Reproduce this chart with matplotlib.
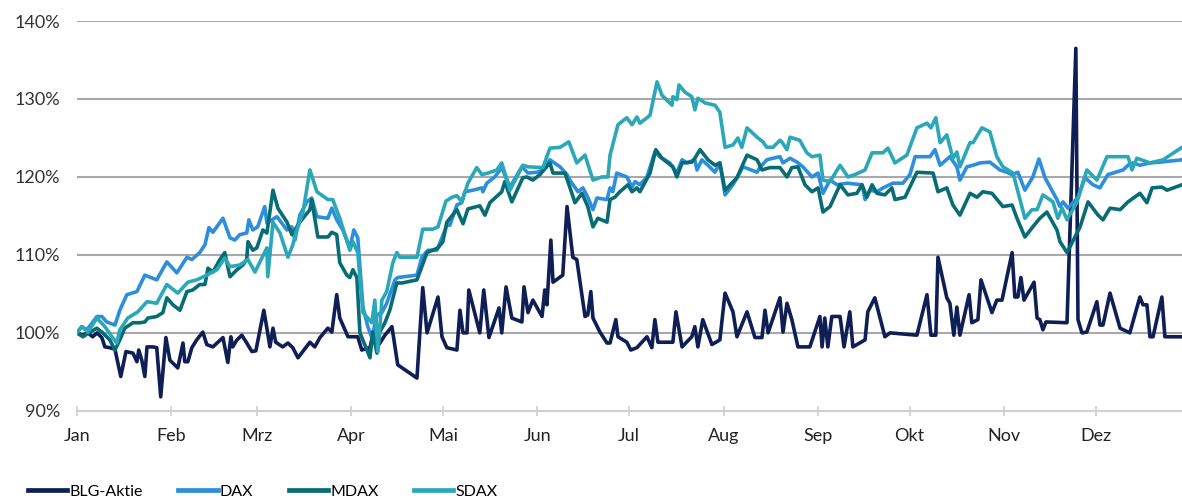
import matplotlib
matplotlib.use("Agg")
import matplotlib.pyplot as plt

plt.rcParams['font.family'] = ['Lato', 'DejaVu Sans']

# day of year (2025) and indexed value in % (start = 100)
blg_days = [0, 2, 3.6, 5.2, 6.6, 8.2, 9.2, 10.8, 12.5, 14.4, 16.1, 18.4, 19.7, 20.3, 21.3, 22.3, 23.0,
            24.9, 26.2, 27.5, 29.2, 30.5, 33.1, 34.8, 35.4, 36.4, 37.7, 39.3, 41.3, 42.6, 44.6, 47.9,
            49.5, 50.5, 51.1, 52.5, 54.1, 55.7, 57.4, 58.7, 61.3, 62.3, 63.3, 64.3, 65.2, 67.5, 69.2,
            70.8, 72.5, 76.4, 78.0, 79.7, 82.3, 83.6, 85.2, 86.2, 88.9, 92.1, 93.4, 96.1, 97.0, 98.7,
            101.0, 103.3, 105.2, 111.5, 113.4, 114.8, 118.4, 119.7, 121.3, 124.6, 125.6, 126.6, 127.9,
            128.5, 132.1, 133.4, 135.1, 138.4, 139.3, 140.7, 142.6, 145.9, 146.6, 147.9, 149.5, 152.5,
            153.4, 154.1, 155.4, 156.1, 159.3, 160.7, 162.6, 163.9, 166.6, 167.5, 168.5, 169.2, 171.5,
            173.8, 174.8, 176.7, 177.4, 180.3, 181.6, 183.6, 186.9, 188.5, 189.5, 190.5, 195.4, 196.4,
            198.4, 201.6, 202.6, 203.6, 205.2, 208.2, 210.8, 212.5, 215.1, 216.4, 219.7, 222.3, 224.6,
            225.6, 226.6, 230.5, 231.5, 232.8, 234.4, 236.4, 240.3, 243.6, 244.3, 245.2, 246.2, 247.5,
            250.2, 251.5, 253.4, 254.4, 258.4, 259.3, 261.6, 264.9, 266.6, 275.4, 278.7, 280.0, 281.6,
            282.3, 285.2, 286.2, 287.5, 288.5, 289.5, 292.5, 293.4, 295.4, 296.4, 300.0, 301.6, 303.3,
            306.6, 307.5, 308.5, 309.5, 310.5, 313.8, 314.8, 315.7, 316.7, 317.7, 324.6, 327.5, 328.2,
            329.5, 331.1, 334.4, 335.4, 336.4, 338.7, 342.0, 345.2, 348.5, 349.5, 350.8, 351.8, 352.8,
            355.7, 356.7, 362.3]
blg_vals = [100.0, 99.7, 100.0, 99.5, 100.0, 99.4, 98.2, 98.1, 97.9, 94.4, 97.6, 97.4, 96.3, 97.8, 96.5,
            94.4, 98.2, 98.2, 98.1, 91.8, 99.4, 96.5, 95.5, 98.7, 96.3, 96.3, 98.1, 99.1, 100.1, 98.5,
            98.2, 99.4, 96.2, 99.5, 98.2, 99.1, 99.7, 98.7, 97.6, 97.7, 102.9, 100.6, 98.2, 100.6, 98.8,
            98.2, 98.7, 98.1, 96.8, 98.8, 98.2, 99.4, 100.6, 100.1, 104.9, 101.9, 99.5, 99.5, 97.8, 98.1,
            99.7, 98.3, 99.7, 100.8, 95.9, 94.2, 105.8, 100.0, 104.6, 99.5, 98.1, 97.8, 102.9, 100.0,
            100.0, 105.5, 100.0, 105.5, 99.4, 103.2, 100.0, 105.9, 101.9, 101.4, 105.9, 102.6, 104.2,
            102.1, 105.5, 103.6, 111.9, 106.5, 107.4, 116.2, 109.7, 109.4, 102.1, 102.3, 105.3, 101.9,
            100.1, 98.7, 98.7, 101.7, 99.5, 98.8, 97.8, 98.1, 99.5, 98.1, 101.7, 98.8, 98.8, 102.7, 98.2,
            99.5, 100.8, 98.2, 101.7, 98.5, 99.1, 105.1, 102.7, 99.5, 102.7, 99.4, 99.4, 102.9, 100.0,
            104.5, 100.1, 103.8, 101.7, 98.2, 98.2, 102.1, 98.2, 101.9, 98.2, 102.1, 102.1, 98.2, 102.7,
            98.2, 99.1, 102.7, 104.5, 99.5, 100.0, 99.7, 104.9, 99.7, 99.7, 109.7, 104.5, 103.8, 99.7,
            103.3, 99.7, 104.9, 101.3, 101.7, 106.8, 102.6, 104.2, 104.2, 110.3, 104.6, 104.6, 107.1,
            104.2, 106.5, 101.9, 101.7, 100.4, 101.4, 101.3, 136.5, 101.7, 100.0, 100.1, 104.0, 101.0,
            101.0, 105.1, 100.6, 100.0, 104.6, 103.6, 103.6, 99.5, 99.5, 104.6, 99.5, 99.5]

dax_days = [0, 1.6, 3.3, 6.6, 8.2, 9.8, 12.5, 14.1, 16.4, 19.7, 22.3, 26.2, 29.5, 32.8, 36.1, 37.7, 40.3,
            42.0, 43.3, 44.6, 47.9, 50.2, 51.8, 53.4, 55.7, 56.4, 57.7, 59.3, 61.6, 62.3, 65.6, 68.9,
            70.5, 71.5, 73.1, 75.4, 77.0, 78.7, 82.3, 83.6, 85.2, 87.2, 89.5, 90.8, 92.1, 93.8, 95.4,
            96.7, 98.4, 100.0, 101.6, 104.3, 105.2, 111.5, 113.1, 115.1, 118.0, 119.7, 121.3, 122.3,
            124.6, 126.2, 127.2, 129.8, 132.8, 133.1, 134.4, 137.0, 139.3, 142.0, 145.9, 147.9, 150.8,
            152.8, 155.1, 158.4, 160.7, 161.6, 164.3, 165.9, 167.5, 169.2, 170.5, 173.8, 174.8, 175.7,
            177.0, 180.3, 182.0, 183.0, 184.6, 186.9, 189.5, 191.1, 194.4, 196.7, 198.4, 200.0, 202.6,
            203.3, 204.9, 206.9, 209.2, 210.8, 212.5, 215.1, 218.4, 223.0, 223.9, 226.2, 228.2, 230.5,
            231.5, 233.8, 236.1, 238.0, 241.0, 243.0, 244.6, 246.9, 249.2, 252.5, 257.4, 258.4, 260.0,
            262.3, 264.3, 267.5, 270.8, 273.1, 274.8, 279.7, 281.3, 283.0, 286.2, 288.5, 289.5, 291.8,
            293.8, 296.1, 299.3, 302.6, 304.9, 306.6, 308.5, 310.8, 313.4, 315.4, 317.4, 321.3, 322.3,
            323.3, 324.9, 328.2, 330.5, 333.1, 335.4, 338.0, 343.0, 344.6, 346.2, 348.5, 351.8, 355.1,
            362.3]
dax_vals = [100.0, 100.8, 100.4, 102.1, 102.1, 101.4, 101.0, 102.9, 104.9, 105.3, 107.4, 106.8, 109.1,
            107.7, 109.7, 109.4, 110.3, 111.3, 113.5, 112.9, 114.7, 112.2, 111.9, 112.6, 112.8, 114.5,
            113.2, 113.6, 116.2, 114.1, 114.9, 113.2, 113.6, 111.9, 115.1, 116.8, 117.3, 114.9, 114.7,
            116.0, 114.5, 113.2, 110.9, 113.2, 112.2, 103.3, 100.8, 99.4, 102.3, 102.6, 103.8, 106.8,
            107.1, 107.4, 109.7, 110.6, 110.6, 112.2, 113.8, 113.8, 116.4, 116.7, 118.1, 118.3, 118.6,
            118.1, 119.2, 120.0, 121.2, 118.7, 121.3, 120.5, 120.6, 120.9, 122.2, 121.3, 120.3, 119.6,
            118.1, 118.6, 117.4, 115.8, 117.3, 117.1, 118.6, 118.1, 120.5, 120.0, 118.7, 119.4, 119.0,
            120.0, 123.2, 122.6, 121.8, 120.5, 122.2, 121.8, 122.2, 120.9, 122.2, 121.5, 120.6, 121.8,
            117.7, 119.0, 121.3, 120.6, 121.2, 122.2, 122.4, 122.6, 121.8, 122.4, 121.9, 121.3, 120.0,
            120.5, 117.9, 119.6, 119.0, 119.2, 119.0, 117.1, 118.3, 118.1, 118.6, 119.2, 119.2, 120.3,
            122.6, 122.6, 123.5, 121.5, 122.6, 121.3, 119.6, 121.3, 121.5, 121.8, 121.9, 120.9, 120.6,
            120.3, 120.6, 118.3, 120.0, 122.3, 119.9, 117.1, 116.2, 116.8, 116.0, 117.4, 119.9, 119.0,
            118.6, 120.3, 120.9, 121.5, 121.8, 121.5, 121.8, 121.9, 122.2]

mdax_days = [0, 2.0, 4.3, 6.6, 8.5, 10.8, 12.5, 14.1, 15.7, 18.4, 20.7, 22.3, 23.3, 26.2, 28.2, 29.5,
             31.5, 33.8, 36.1, 38.0, 40.3, 42.0, 43.0, 44.6, 46.9, 48.5, 50.2, 52.5, 54.4, 55.7, 56.1,
             57.7, 59.0, 61.0, 62.3, 64.3, 65.9, 68.9, 70.5, 71.5, 73.1, 76.4, 77.0, 79.0, 82.3, 83.6,
             85.2, 86.2, 88.5, 89.5, 90.5, 91.8, 92.8, 95.1, 96.1, 97.0, 98.4, 99.3, 101.0, 102.6, 104.9,
             106.6, 111.5, 114.8, 118.4, 120.0, 121.3, 124.6, 126.6, 128.2, 132.1, 133.8, 135.4, 139.3,
             140.3, 142.6, 146.2, 147.5, 149.5, 151.8, 155.1, 156.1, 160.0, 161.6, 163.3, 165.6, 167.5,
             169.2, 170.8, 173.8, 174.8, 176.4, 178.0, 180.7, 182.0, 183.6, 184.6, 187.9, 189.8, 191.8,
             195.4, 196.7, 198.4, 201.6, 202.6, 204.3, 206.9, 209.2, 210.8, 212.5, 216.4, 219.7, 223.0,
             224.6, 227.2, 230.5, 232.8, 234.4, 236.4, 238.7, 241.0, 243.0, 244.6, 246.9, 250.2, 252.8,
             255.7, 257.4, 259.0, 260.7, 262.3, 264.9, 267.2, 268.2, 271.5, 275.4, 280.7, 282.3, 285.2,
             287.2, 289.5, 292.8, 295.1, 297.0, 300.0, 303.6, 306.6, 308.2, 310.8, 313.4, 315.7, 318.0,
             321.3, 322.3, 324.6, 328.9, 331.5, 334.8, 336.4, 338.7, 342.0, 344.6, 348.5, 350.8, 352.5,
             355.7, 357.4, 362.3]
mdax_vals = [100.0, 99.5, 100.1, 100.6, 100.0, 99.1, 97.8, 99.1, 100.6, 101.3, 101.3, 101.4, 101.9, 102.1,
             102.6, 104.5, 103.6, 102.9, 105.3, 105.5, 106.2, 106.2, 108.3, 107.8, 109.4, 110.3, 107.2,
             108.1, 108.7, 109.4, 111.7, 110.6, 110.9, 113.2, 112.8, 118.3, 116.0, 114.2, 112.6, 113.2,
             114.2, 115.8, 117.1, 112.3, 112.3, 112.9, 112.6, 109.0, 107.4, 107.1, 108.1, 107.1, 100.0,
             97.8, 96.8, 100.1, 97.4, 100.1, 101.3, 102.9, 106.4, 106.4, 106.8, 110.3, 110.9, 111.7,
             114.2, 115.8, 114.0, 115.9, 116.3, 115.1, 116.7, 118.1, 119.4, 116.8, 119.9, 120.0, 119.6,
             120.3, 121.8, 120.5, 120.5, 118.7, 116.7, 117.9, 116.2, 113.6, 114.7, 114.2, 117.1, 117.4,
             118.1, 119.0, 118.1, 118.6, 118.1, 120.5, 123.5, 122.4, 121.3, 120.0, 121.8, 121.9, 122.4,
             123.5, 122.2, 121.5, 121.8, 118.3, 119.9, 122.8, 122.2, 120.9, 121.2, 121.2, 120.0, 121.2,
             121.3, 119.0, 118.1, 118.6, 115.5, 116.2, 119.0, 117.7, 117.9, 119.0, 117.4, 119.0, 117.9,
             117.7, 118.6, 117.1, 117.4, 120.6, 120.5, 118.1, 118.6, 116.4, 115.1, 117.9, 117.4, 118.1,
             117.9, 116.2, 116.4, 114.7, 112.3, 113.6, 114.7, 115.5, 113.2, 111.7, 110.3, 113.6, 116.8,
             115.1, 114.5, 116.0, 115.8, 116.8, 117.9, 116.7, 118.6, 118.7, 118.3, 119.0]

sdax_days = [0, 1.6, 3.6, 6.6, 9.2, 11.5, 13.1, 14.1, 16.7, 20.0, 23.0, 26.2, 29.5, 33.1, 36.4, 39.3,
             42.6, 45.9, 48.5, 50.2, 53.4, 56.1, 58.4, 62.3, 62.6, 64.3, 66.6, 69.2, 70.8, 72.1, 74.1,
             76.4, 78.7, 82.3, 83.9, 86.2, 89.5, 90.5, 92.1, 93.8, 96.7, 97.7, 98.7, 100.0, 101.6, 103.6,
             104.9, 105.9, 111.5, 113.4, 116.7, 118.4, 121.0, 123.0, 124.6, 126.2, 128.2, 131.1, 132.8,
             134.8, 137.7, 139.3, 142.0, 146.2, 147.9, 152.8, 155.1, 158.4, 161.3, 163.9, 166.6, 169.2,
             172.1, 174.1, 174.8, 177.4, 180.3, 182.0, 183.6, 184.6, 187.9, 190.2, 191.8, 195.1, 195.4,
             196.7, 197.4, 199.3, 201.6, 202.6, 203.6, 205.9, 209.2, 210.8, 212.5, 215.1, 216.7, 218.0,
             219.7, 223.0, 224.9, 226.2, 228.2, 230.5, 231.1, 232.8, 233.8, 237.0, 239.3, 241.0, 243.6,
             244.6, 246.9, 250.2, 252.8, 255.1, 258.4, 260.7, 264.3, 265.9, 268.2, 272.1, 275.4, 278.7,
             280.0, 281.6, 283.0, 285.2, 287.2, 288.5, 289.5, 292.8, 293.8, 296.7, 299.3, 301.6, 303.6,
             306.9, 309.2, 310.8, 313.1, 314.8, 316.7, 320.0, 321.6, 323.0, 324.6, 327.9, 331.1, 334.4,
             337.7, 341.0, 344.6, 345.9, 347.5, 351.8, 356.1, 362.3]
sdax_vals = [100.0, 100.8, 100.1, 101.9, 100.8, 99.5, 98.7, 100.4, 101.9, 102.7, 104.0, 103.8, 106.2,
             105.1, 106.5, 106.8, 107.4, 108.1, 109.6, 108.5, 108.7, 109.4, 107.8, 110.9, 107.2, 114.2,
             112.8, 109.7, 111.3, 113.2, 115.4, 120.9, 118.1, 117.1, 117.1, 114.7, 110.6, 111.7, 110.3,
             102.6, 101.3, 104.2, 97.6, 104.2, 105.3, 109.0, 110.3, 109.7, 109.7, 113.3, 113.3, 113.6,
             116.9, 117.4, 117.6, 116.8, 119.2, 121.2, 120.3, 120.5, 120.9, 121.8, 118.3, 121.5, 121.3,
             121.2, 123.7, 123.8, 124.5, 121.8, 122.8, 119.6, 120.0, 120.0, 122.8, 126.7, 127.6, 126.7,
             127.7, 126.9, 127.9, 132.2, 130.5, 129.2, 130.3, 129.9, 131.8, 130.9, 130.3, 128.6, 130.1,
             129.5, 129.2, 128.3, 123.8, 124.1, 125.0, 123.8, 126.3, 125.1, 124.5, 123.8, 123.8, 124.7,
             124.5, 123.5, 125.1, 124.7, 123.1, 122.6, 122.8, 119.6, 119.4, 121.5, 120.0, 120.3, 120.9,
             123.1, 123.1, 123.7, 121.8, 122.8, 126.3, 126.9, 126.3, 127.6, 124.4, 125.4, 122.4, 123.2,
             121.3, 124.4, 124.4, 126.3, 125.8, 122.6, 121.3, 120.5, 117.1, 114.7, 115.8, 115.8, 117.7,
             116.8, 114.7, 116.0, 114.5, 116.8, 120.9, 119.6, 122.6, 122.6, 122.6, 120.9, 122.4, 121.8,
             122.2, 123.8]

month_starts = [0, 31, 59, 90, 120, 151, 181, 212, 243, 273, 304, 334]
month_labels = ['Jan', 'Feb', 'Mrz', 'Apr', 'Mai', 'Jun', 'Jul', 'Aug', 'Sep', 'Okt', 'Nov', 'Dez']
y_ticks = [90, 100, 110, 120, 130, 140]

series = [
    ('BLG-Aktie', blg_days, blg_vals, '#0f1f55'),
    ('DAX', dax_days, dax_vals, '#2e8ede'),
    ('MDAX', mdax_days, mdax_vals, '#086c74'),
    ('SDAX', sdax_days, sdax_vals, '#2ba8b8'),
]

fig = plt.figure(figsize=(11.82, 5.01), dpi=100)
ax = fig.add_axes([0.065, 0.180, 0.935, 0.778])

for name, d, v, c in series:
    ax.plot(d, v, color=c, lw=2.6, label=name, solid_joinstyle='round')

ax.set_xlim(0, 362.3)
ax.set_ylim(90, 140)
ax.set_yticks(y_ticks)
ax.set_yticklabels([f'{t}%' for t in y_ticks])
ax.set_xticks(month_starts)
ax.set_xticklabels(month_labels)

for t in y_ticks[1:]:
    ax.axhline(t, color='#a7a9ac', lw=1.5, zorder=0)

for s in ['top', 'right', 'left']:
    ax.spines[s].set_visible(False)
ax.spines['bottom'].set_color('#d0d0d0')
ax.spines['bottom'].set_linewidth(1.5)

ax.tick_params(axis='y', length=0, pad=12, labelsize=13, labelcolor='#333333')
ax.tick_params(axis='x', direction='inout', length=7, width=1.2, color='#d0d0d0',
               pad=9, labelsize=13, labelcolor='#222222')

fig.legend(loc='center left', bbox_to_anchor=(0.024, 0.018), ncol=4, frameon=False,
           fontsize=11.5, handlelength=2.45, handletextpad=0.15, columnspacing=2.2,
           borderpad=0, borderaxespad=0)
for line in fig.legends[0].get_lines():
    line.set_linewidth(3.4)

fig.savefig('out.png', dpi=100)
